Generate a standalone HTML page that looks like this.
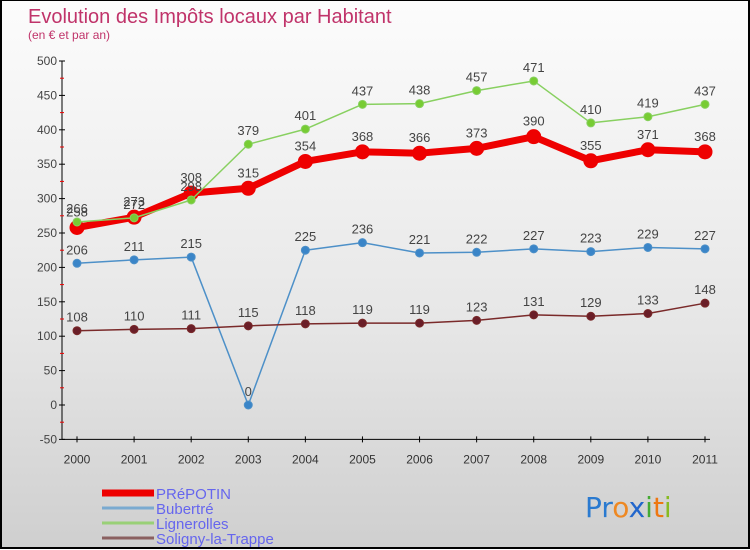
<!DOCTYPE html>
<html><head><meta charset="utf-8"><style>
html,body{margin:0;padding:0}
body{width:750px;height:550px;overflow:hidden;font-family:"Liberation Sans","DejaVu Sans",sans-serif}
#wrap{position:relative;width:746px;height:546px;border:2px solid #000;border-top:1px solid #000;background:linear-gradient(#fcfcfc,#e6e6e6 60%,#cfcfcf)}
</style></head><body>
<div id="wrap">
<svg id="c" width="746" height="547" style="position:absolute;left:0;top:0;font-family:'Liberation Sans',sans-serif"></svg>
</div>
<script>
const years=["2000","2001","2002","2003","2004","2005","2006","2007","2008","2009","2010","2011"];
const prepotin=[258,273,308,315,354,368,366,373,390,355,371,368];
const bubertre=[206,211,215,0,225,236,221,222,227,223,229,227];
const lignerolles=[266,272,298,379,401,437,438,457,471,410,419,437];
const soligny=[108,110,111,115,118,119,119,123,131,129,133,148];
const yTicks=[-50,0,50,100,150,200,250,300,350,400,450,500];
const NS="http://www.w3.org/2000/svg";
const svg=document.getElementById('c');
function X(i){return 75+i*(628/11);}
function Y(v){return 404-v*0.688;}
function el(t,a,p){const e=document.createElementNS(NS,t);for(const k in a)e.setAttribute(k,a[k]);(p||svg).appendChild(e);return e;}
let t=el('text',{x:26,y:22,'font-size':20,fill:'#c0336a'});t.textContent='Evolution des Impôts locaux par Habitant';

t=el('text',{x:26,y:38,'font-size':12,fill:'#c0336a'});t.textContent='(en € et par an)';

const ax=el('g',{});
el('line',{x1:60,y1:Y(500),x2:60,y2:Y(-50),stroke:'#000'},ax);
yTicks.forEach((v,i)=>{el('line',{x1:57,y1:Y(v),x2:63,y2:Y(v),stroke:'#000'},ax);
 if(i<yTicks.length-1)el('line',{x1:58,y1:Y(v+25),x2:62,y2:Y(v+25),stroke:'#e00'},ax);
 const tt=el('text',{x:55,y:Y(v)+4,'font-size':12,fill:'#444','text-anchor':'end'},ax);tt.textContent=v;});
const xa=el('g',{});
el('line',{x1:60,y1:Y(-50),x2:X(11)+5,y2:Y(-50),stroke:'#000'},xa);
years.forEach((y,i)=>{el('line',{x1:X(i),y1:Y(-50)-3,x2:X(i),y2:Y(-50)+3,stroke:'#000'},xa);
 const tt=el('text',{x:X(i),y:Y(-50)+24,'font-size':12,fill:'#333','text-anchor':'middle'},xa);tt.textContent=y;});
function series(name,data,color,w,r,mk,lab){
 const g=el('g',{});
 el('polyline',{points:data.map((v,i)=>X(i)+','+Y(v)).join(' '),fill:'none',stroke:color,'stroke-width':w,'stroke-linejoin':'round'},g);
 data.forEach((v,i)=>{const c=el('circle',{cx:X(i),cy:Y(v),r:r,fill:mk,stroke:color,'stroke-width':1},g);
  
  const tt=el('text',{x:X(i),y:Y(v)-lab,'font-size':13,fill:'#444','text-anchor':'middle'},g);tt.textContent=v;});
}
series('bubertre-line',bubertre,'#4d90c8',1.5,4,'#3a85c8',9);
series('soligny-line',soligny,'#7a2a2a',1.5,4,'#6a1e28',9);
series('prepotin-line',prepotin,'#ee0000',7,7,'#ee0000',11);
series('lignerolles-line',lignerolles,'#88d060',1.5,4,'#77cc33',9);
const lg=[['PRéPOTIN','#ee0000',7],['Bubertré','#7aaad0',3],['Lignerolles','#99d077',3],['Soligny-la-Trappe','#8a6060',3]];
lg.forEach((l,i)=>{const g=el('g',{});
 const y=492+i*15;el('line',{x1:100,y1:y,x2:152,y2:y,stroke:l[1],'stroke-width':l[2]},g);
 const tt=el('text',{x:154,y:y+6,'font-size':15,fill:'#6666ee'},g);tt.textContent=l[0];});
const lo=el('text',{x:583,y:516,'font-size':28,'font-family':'DejaVu Sans, sans-serif'});

[['Pr','#2a7ad0'],['o','#ee8822'],['x','#2266cc'],['i','#44aa33'],['t','#ee7711'],['i','#88bb22']].forEach(p=>{const s=el('tspan',{fill:p[1]},lo);s.textContent=p[0];});
</script>
</body></html>
